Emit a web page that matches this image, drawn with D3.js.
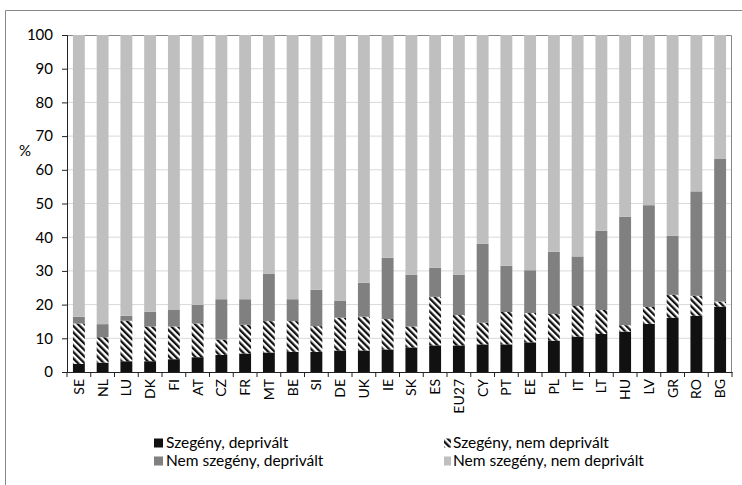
<!DOCTYPE html>
<html>
<head>
<meta charset="utf-8">
<script src="https://cdn.jsdelivr.net/npm/d3@7"></script>
<style>
  body { margin: 0; background: #fff; }
  svg { font-family: Lato, "Open Sans", sans-serif; display: block; }
  .tick text { fill: #000; }
</style>
</head>
<body>
<svg width="742" height="485"></svg>
<script>
const countries = ['SE','NL','LU','DK','FI','AT','CZ','FR','MT','BE','SI','DE','UK','IE','SK','ES','EU27','CY','PT','EE','PL','IT','LT','HU','LV','GR','RO','BG'];
// segment shares (%)
const poorDeprived    = [2.4, 2.8, 3.2, 3.2, 3.8, 4.4, 5.1, 5.5, 5.8, 6.0, 6.0, 6.4, 6.4, 6.7, 7.3, 7.9, 7.9, 8.2, 8.2, 8.8, 9.3, 10.5, 11.3, 12.0, 14.3, 16.1, 16.7, 19.4];
const poorNotDeprived = [12.0, 7.5, 12.0, 10.3, 9.7, 10.0, 4.5, 8.5, 9.3, 9.1, 7.6, 9.7, 10.0, 9.0, 6.2, 14.4, 9.0, 6.4, 9.6, 8.7, 7.9, 9.1, 7.1, 1.9, 5.0, 6.8, 5.9, 1.5];
const notPoorDeprived = [2.0, 3.9, 1.5, 4.4, 4.9, 5.5, 12.0, 7.6, 14.1, 6.5, 10.8, 5.1, 10.1, 18.2, 15.4, 8.6, 12.0, 23.5, 13.7, 12.7, 18.5, 14.7, 23.5, 32.2, 30.2, 17.5, 31.0, 42.3];
const seriesNames = ['Szegény, deprivált', 'Szegény, nem deprivált', 'Nem szegény, deprivált', 'Nem szegény, nem deprivált'];
const yTicks = [0, 10, 20, 30, 40, 50, 60, 70, 80, 90, 100];

const svg = d3.select('svg');
const width = +svg.attr('width');
const height = +svg.attr('height');

const margin = {top: 35, right: 10, bottom: 113, left: 67};
const innerWidth = width - margin.left - margin.right;
const innerHeight = height - margin.top - margin.bottom;

const data = countries.map((c, i) => {
	const a = poorDeprived[i], b = poorNotDeprived[i], d = notPoorDeprived[i];
	return {country: c, s0: a, s1: b, s2: d, s3: 100 - a - b - d};
});
const keys = ['s0', 's1', 's2', 's3'];
const stacked = d3.stack().keys(keys)(data);

const defs = svg.append('defs');
defs.append('pattern')
	.attr('id', 'hatch')
	.attr('patternUnits', 'userSpaceOnUse')
	.attr('width', 4.6)
	.attr('height', 4.6)
	.attr('patternTransform', 'rotate(-45)')
	.call(p => {
		p.append('rect').attr('width', 4.6).attr('height', 4.6).attr('fill', '#fff');
		p.append('rect').attr('width', 2.3).attr('height', 4.6).attr('fill', '#111');
	});

const fills = ['#111111', 'url(#hatch)', '#808080', '#bfbfbf'];

// outer chart border (only left and top edges fall inside the picture)
svg.append('path')
	.attr('d', `M5.5,${height}V10.5H${width}`)
	.attr('fill', 'none')
	.attr('stroke', '#888');

const xScale = d3.scaleBand()
	.domain(countries)
	.range([0, innerWidth])
	.paddingInner(0.5)
	.paddingOuter(0.25);

const yScale = d3.scaleLinear()
	.domain([0, 100])
	.range([innerHeight, 0]);

const g = svg.append('g')
	.attr('transform', `translate(${margin.left}, ${margin.top})`);

// gridlines
g.append('g')
	.selectAll('line')
	.data(yTicks.filter(t => t > 0 && t < 100))
	.join('line')
		.attr('x1', 0).attr('x2', innerWidth)
		.attr('y1', d => yScale(d)).attr('y2', d => yScale(d))
		.attr('stroke', '#d9d9d9');

// plot border (top, right)
g.append('path')
	.attr('d', `M0,0.5H${innerWidth - 0.5}V${innerHeight}`)
	.attr('fill', 'none')
	.attr('stroke', '#888');

g.append('g')
	.selectAll('g')
	.data(stacked)
	.join('g')
		.attr('fill', (d, i) => fills[i])
	.selectAll('rect')
	.data(d => d)
	.join('rect')
		.attr('x', d => xScale(d.data.country))
		.attr('width', xScale.bandwidth())
		.attr('y', d => yScale(d[1]))
		.attr('height', d => yScale(d[0]) - yScale(d[1]));

const yAxis = d3.axisLeft(yScale)
	.tickValues(yTicks)
	.tickSize(5)
	.tickPadding(9);

const yAxisG = g.append('g').call(yAxis)
	.attr('font-family', null)
	.attr('font-size', 15);
yAxisG.selectAll('line, .domain').attr('stroke', '#222');

const xAxis = d3.axisBottom(xScale)
	.tickSize(0)
	.tickPadding(5);

const xAxisG = g.append('g')
	.attr('transform', `translate(0, ${innerHeight})`)
	.call(xAxis)
	.attr('font-family', null)
	.attr('font-size', 14);
xAxisG.select('.domain').attr('stroke', '#222');
xAxisG.selectAll('.tick text')
	.attr('transform', 'translate(0, 7) rotate(-90)')
	.attr('text-anchor', 'end')
	.attr('dy', '0.35em')
	.attr('x', 0)
	.attr('y', 0);

// category separator ticks
const step = xScale.step();
xAxisG.append('g')
	.selectAll('line')
	.data(d3.range(countries.length + 1))
	.join('line')
		.attr('x1', i => i * step).attr('x2', i => i * step)
		.attr('y1', 0).attr('y2', 5)
		.attr('stroke', '#222');

g.append('text')
	.attr('x', -48)
	.attr('y', yScale(64))
	.attr('fill', '#000')
	.attr('font-size', 15)
	.text('%');

// legend: left column has full swatches, right column's swatches are clipped short
const legendPos = [[154, 443], [444, 443], [154, 461], [444, 461]];
const legend = svg.append('g')
	.selectAll('g')
	.data(seriesNames)
	.join('g')
		.attr('transform', (d, i) => `translate(${legendPos[i][0]}, ${legendPos[i][1]})`);
legend.append('rect')
	.attr('y', -4.5)
	.attr('width', (d, i) => i % 2 ? 7 : 9).attr('height', 9)
	.attr('fill', (d, i) => fills[i]);
legend.append('text')
	.attr('x', (d, i) => i % 2 ? 9 : 12)
	.attr('dy', '0.35em')
	.attr('font-size', 15.5)
	.text(d => d);
</script>
</body>
</html>
